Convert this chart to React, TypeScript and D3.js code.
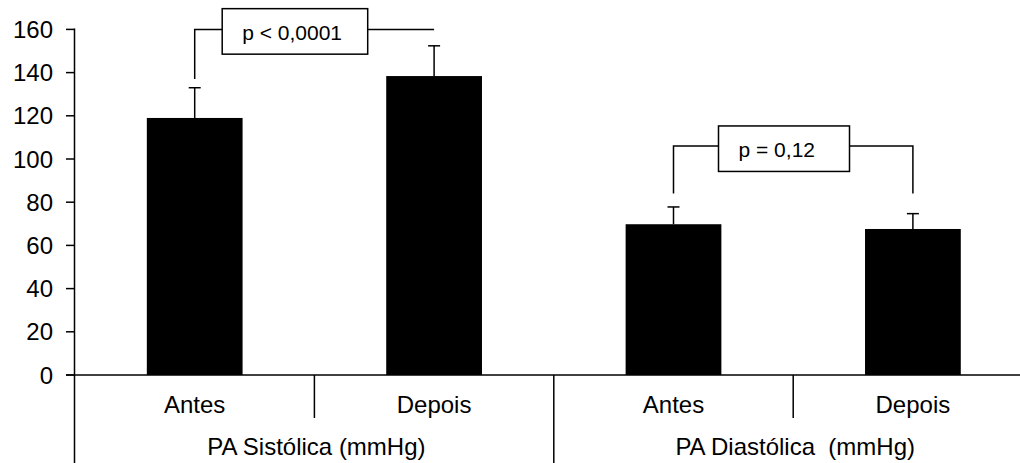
import React, { useEffect, useRef } from "react";
import * as d3 from "d3";

// data
const groups = ["PA Sistólica (mmHg)", "PA Diastólica  (mmHg)"];
const periods = ["Antes", "Depois"];
const means = [119, 138.4, 69.8, 67.6];
const errors = [14, 14, 8, 7.1];
const yTicks = [0, 20, 40, 60, 80, 100, 120, 140, 160];
const pLabels = ["p < 0,0001", "p = 0,12"];

const W = 1020;
const H = 463;

const App = () => {
  const svgRef = useRef<SVGSVGElement | null>(null);

  useEffect(() => {
    if (!svgRef.current) return;
    const svg = d3.select(svgRef.current);
    svg.selectAll("*").remove();

    const font = "'Liberation Sans', Arial, sans-serif";
    const keys = groups.flatMap((g, gi) => periods.map((p) => `${gi}-${p}`));

    const x = d3.scaleBand().domain(keys).range([75, 1032.6]).paddingInner(0).paddingOuter(0);
    const y = d3.scaleLinear().domain([0, 160]).range([375, 29.4]);
    const barW = x.bandwidth() * 0.4;
    const cx = (i: number) => (x(keys[i]) as number) + x.bandwidth() / 2;

    // bars
    svg
      .append("g")
      .selectAll("rect")
      .data(means)
      .join("rect")
      .attr("x", (_, i) => cx(i) - barW / 2)
      .attr("y", (d) => y(d))
      .attr("width", barW)
      .attr("height", (d) => y(0) - y(d))
      .attr("fill", "#000");

    // error bars (upper only)
    const eg = svg.append("g").attr("stroke", "#000").attr("stroke-width", 1.5);
    means.forEach((m, i) => {
      eg.append("line")
        .attr("x1", cx(i)).attr("x2", cx(i))
        .attr("y1", y(m)).attr("y2", y(m + errors[i]));
      eg.append("line")
        .attr("x1", cx(i) - 6).attr("x2", cx(i) + 6)
        .attr("y1", y(m + errors[i])).attr("y2", y(m + errors[i]));
    });

    // y axis
    const ax = svg.append("g").attr("stroke", "#000").attr("stroke-width", 1.5);
    ax.append("line").attr("x1", 74.5).attr("x2", 74.5).attr("y1", y(160) - 1).attr("y2", H);
    yTicks.forEach((t) => {
      ax.append("line").attr("x1", 66).attr("x2", 74.5).attr("y1", y(t)).attr("y2", y(t));
    });
    svg
      .append("g")
      .selectAll("text")
      .data(yTicks)
      .join("text")
      .attr("x", 53)
      .attr("y", (d) => y(d))
      .attr("dy", "0.36em")
      .attr("text-anchor", "end")
      .attr("font-family", font)
      .attr("font-size", 24)
      .text((d) => d);

    // x axis + category separators
    ax.append("line").attr("x1", 66).attr("x2", W).attr("y1", y(0)).attr("y2", y(0));
    keys.forEach((k, i) => {
      if (i === 0) return;
      const sx = x(k) as number;
      const long = i % periods.length === 0;
      ax.append("line")
        .attr("x1", sx).attr("x2", sx)
        .attr("y1", y(0)).attr("y2", long ? H : 418);
    });

    // period labels
    svg
      .append("g")
      .selectAll("text")
      .data(keys)
      .join("text")
      .attr("x", (_, i) => cx(i))
      .attr("y", 413)
      .attr("text-anchor", "middle")
      .attr("font-family", font)
      .attr("font-size", 24)
      .text((k) => k.split("-")[1]);

    // group labels
    svg
      .append("g")
      .selectAll("text")
      .data(groups)
      .join("text")
      .attr("x", (_, gi) => {
        const a = x(keys[gi * 2]) as number;
        return a + x.bandwidth() + 2;
      })
      .attr("y", 454.5)
      .attr("text-anchor", "middle")
      .attr("font-family", font)
      .attr("font-size", 24)
      .style("white-space", "pre")
      .text((d) => d);

    // significance brackets
    const brackets = [
      { a: 0, b: 1, top: 160, dropA: 137, dropB: null as number | null, boxOff: 27.5, boxW: 145.5, boxTop: 169.6 },
      { a: 2, b: 3, top: 106, dropA: 84, dropB: 84, boxOff: 45, boxW: 131, boxTop: 115.3 },
    ];
    const bg = svg.append("g").attr("fill", "none").attr("stroke", "#000").attr("stroke-width", 1.5);
    brackets.forEach((br, k) => {
      const xa = cx(br.a);
      const xb = cx(br.b);
      const yt = y(br.top);
      const pts: [number, number][] = [];
      pts.push([xa, y(br.dropA)], [xa, yt], [xb, yt]);
      if (br.dropB !== null) pts.push([xb, y(br.dropB)]);
      bg.append("path").attr("d", d3.line()(pts));
      const bx = xa + br.boxOff;
      const by = y(br.boxTop);
      bg.append("rect")
        .attr("x", bx)
        .attr("y", by)
        .attr("width", br.boxW)
        .attr("height", 45.5)
        .attr("fill", "#fff");
      svg.append("text")
        .attr("x", bx + 20)
        .attr("y", by + 31.5)
        .attr("font-family", font)
        .attr("font-size", 21)
        .text(pLabels[k]);
    });
  }, []);

  return (
    <div style={{ position: "fixed", left: 0, top: 0, width: W, height: H, background: "#fff" }}>
      <svg ref={svgRef} width={W} height={H} style={{ display: "block" }} />
    </div>
  );
};

export default App;
